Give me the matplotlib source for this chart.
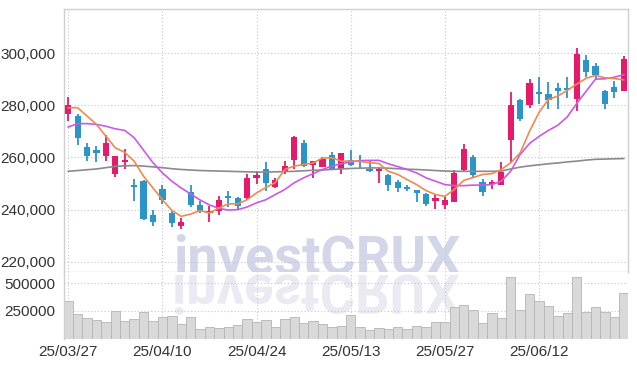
import matplotlib
matplotlib.use('Agg')
import matplotlib.pyplot as plt
import matplotlib.transforms as mtransforms
from matplotlib.textpath import TextPath
from matplotlib.patches import PathPatch
from matplotlib.font_manager import FontProperties
import numpy as np

# ---- donnees ----
date_labels = ['25/03/27', '25/04/10', '25/04/24', '25/05/13', '25/05/27', '25/06/12']
date_idx = [0, 10, 20, 30, 40, 50]

opens = [276800, 276000, 264100, 262700, 260600, 253500, 258400, 248900, 250800, 238100,
         248100, 238700, 233600, 246700, 241800, 238800, 239400, 244600, 244500, 244500,
         252100, 255600, 248600, 254500, 259200, 265400, 257000, 256400, 260900, 255400,
         259000, 258800, 255700, 254700, 253100, 250500, 248300, 247400, 245800, 243300,
         241900, 243100, 255100, 260000, 250700, 249900, 249500, 266700, 281900, 280100,
         284900, 284500, 286800, 286800, 282600, 297300, 295100, 285500, 287000, 285500]
highs = [283300, 276800, 265700, 264500, 268800, 260500, 263300, 251800, 251200, 240000,
         249300, 240000, 236800, 249500, 243200, 241500, 245400, 247300, 244900, 253500,
         255000, 258200, 252000, 258800, 268200, 266700, 258600, 260000, 262200, 261800,
         262700, 260800, 259000, 255800, 253500, 251200, 249300, 247700, 246300, 245700,
         244800, 255100, 265300, 260800, 251900, 251500, 258200, 285300, 282600, 290300,
         290900, 289000, 288700, 291000, 302200, 299200, 296400, 285800, 289300, 299000]
lows = [274000, 264900, 258700, 258200, 258700, 252500, 255700, 243300, 236000, 233600,
        242000, 233200, 232600, 241000, 238700, 235400, 237800, 241000, 240400, 243500,
        249900, 247300, 248300, 253700, 255400, 256400, 252200, 256300, 255400, 253500,
        256700, 255400, 254300, 250300, 247300, 246700, 247100, 243100, 241500, 240300,
        240300, 242800, 254500, 252600, 245400, 248100, 249400, 258000, 274000, 279100,
        280400, 278700, 278700, 283000, 277800, 290900, 289600, 278500, 283000, 285500]
closes = [280000, 267400, 260600, 261700, 265400, 260500, 259200, 248600, 236500, 235300,
          243600, 234900, 235400, 241700, 239600, 239200, 243800, 244400, 241500, 252200,
          253100, 250100, 251500, 256900, 267700, 256700, 258600, 259500, 255700, 261700,
          257200, 258500, 255000, 255500, 249600, 248200, 247800, 246400, 242200, 244600,
          243600, 254100, 263300, 253100, 246700, 250500, 254300, 280000, 274900, 288700,
          284500, 281900, 285500, 285800, 299600, 292800, 291700, 280700, 285300, 297700]

# moyennes mobiles
ma5 = [279100, 279100, 275900, 272700, 268200, 263700, 262000, 258600, 252800, 248300,
       243800, 239700, 237400, 238300, 239600, 238700, 240600, 242200, 242200, 243800,
       246400, 248500, 250400, 255400, 256700, 257300, 257900, 259800, 259900, 258600,
       258600, 258500, 258000, 257700, 254700, 253500, 251500, 249600, 247300, 245800,
       245100, 247700, 251200, 252300, 253500, 253800, 255400, 258000, 261800, 270100,
       277300, 282300, 283600, 285800, 288100, 290400, 291500, 290600, 290300, 289800]
ma20 = [271700, 273000, 273000, 272700, 272000, 271000, 270400, 267600, 262800, 258000,
        254100, 250900, 248300, 246000, 243700, 241800, 240500, 239800, 240000, 241000,
        242600, 243800, 245800, 247700, 250300, 252200, 253800, 255400, 256700, 257600,
        258300, 258800, 258900, 258900, 257600, 256500, 255400, 254100, 252200, 250900,
        249600, 249200, 249200, 249400, 249400, 249600, 250900, 254800, 261200, 265400,
        268100, 270400, 272400, 275600, 280700, 285400, 290100, 290200, 290800, 291800]
ma60 = [254700, 255000, 255300, 255600, 256100, 256600, 256800, 256900, 256700, 256400,
        256100, 255700, 255400, 255200, 255000, 254900, 254800, 254700, 254600, 254500,
        254400, 254400, 254500, 254600, 254700, 254900, 255100, 255200, 255400, 255600,
        255800, 255900, 256000, 256000, 255900, 255700, 255500, 255400, 255200, 255000,
        254800, 254700, 254700, 254700, 254700, 254700, 254800, 255600, 256300, 256800,
        257200, 257600, 257900, 258300, 258600, 259000, 259300, 259400, 259500, 259600]

volume = [335000, 220000, 181000, 163000, 145000, 245000, 154000, 172000, 235000, 154000,
          190000, 199000, 127000, 190000, 82000, 100000, 91000, 100000, 118000, 172000,
          148000, 163000, 100000, 172000, 190000, 139000, 154000, 130000, 100000, 112000,
          208000, 100000, 73000, 91000, 82000, 100000, 82000, 109000, 100000, 145000,
          145000, 281000, 299000, 254000, 136000, 227000, 181000, 552000, 254000, 398000,
          335000, 290000, 199000, 227000, 552000, 236000, 281000, 236000, 190000, 407000]

price_ticks = [220000, 240000, 260000, 280000, 300000]
vol_ticks = [250000, 500000]

plt.rcParams['font.family'] = ['Liberation Sans Narrow', 'Liberation Sans', 'DejaVu Sans']

RED = '#e61a6b'
BLUE = '#2b95c8'
GRID = '#c4c6d6'
SPINE = '#cfcfcf'
TXT = '#333333'

W, H = 637, 366
fig = plt.figure(figsize=(W / 100, H / 100), dpi=100)
ax = fig.add_axes([64 / W, 1 - 272 / H, 564 / W, 263 / H])
axv = fig.add_axes([64 / W, 1 - 338.5 / H, 564 / W, 66.5 / H], sharex=ax)

x = np.arange(len(opens))
o = np.array(opens)
c = np.array(closes)
up = c >= o
cols = np.where(up, RED, BLUE)

# meches + corps
ax.vlines(x, lows, highs, colors=cols, linewidth=1.3, zorder=3)
body_lo = np.minimum(o, c)
body_h = np.maximum(np.abs(c - o), 700)
ax.bar(x, body_h, bottom=body_lo, width=0.66, color=cols, linewidth=0, zorder=3)

# moyennes mobiles
ax.plot(x, ma60, color='#8a8a8a', linewidth=1.2, zorder=4)
ax.plot(x, ma20, color='#c95ae8', linewidth=1.2, zorder=4)
ax.plot(x, ma5, color='#ef8a4f', linewidth=1.2, zorder=4)

# volume
axv.bar(x, volume, width=1.0, color='#d9d9d9', edgecolor='#b5b5b5', linewidth=0.6, zorder=2)

ax.set_xlim(-0.45, 59.45)
ax.set_ylim(216050, 317000)
axv.set_ylim(0, 600000)

ax.set_yticks(price_ticks)
ax.set_yticklabels([f'{v:,}' for v in price_ticks])
axv.set_yticks(vol_ticks)
axv.set_yticklabels([str(v) for v in vol_ticks])
axv.set_xticks(date_idx)
axv.set_xticklabels(date_labels)
ax.tick_params(axis='x', labelbottom=False)

for a in (ax, axv):
    a.tick_params(length=0, labelsize=11, colors=TXT, pad=6)
    a.grid(True, linestyle=(0, (1, 2)), color=GRID, linewidth=0.8)
    a.set_axisbelow(True)
    for s in a.spines.values():
        s.set_color(SPINE)
        s.set_linewidth(1.0)
axv.tick_params(axis='x', pad=5)
axv.spines['top'].set_visible(False)
axv.spines['right'].set_visible(False)
axv.spines['bottom'].set_visible(False)

# filigrane investCRUX + reflet
wm_pt = 39
ident = mtransforms.IdentityTransform()
ax.text(317, 93, 'investCRUX', transform=ident, ha='center', va='baseline',
        fontsize=wm_pt, fontweight='bold', family='Roboto', color='#d2d6e8',
        zorder=0.5, clip_on=False)
fp = FontProperties(family='Roboto', weight='bold')
tp = TextPath((0, 0), 'investCRUX', size=wm_pt * 100 / 72, prop=fp)
ext = tp.get_extents()
tr = mtransforms.Affine2D().scale(1, -1).translate(317 - (ext.x0 + ext.x1) / 2, 91)
refl = PathPatch(tr.transform_path(tp), facecolor='#e9eaf2', edgecolor='none',
                 transform=ident, zorder=0.5)
axv.add_patch(refl)

fig.savefig('out.png', dpi=100)
